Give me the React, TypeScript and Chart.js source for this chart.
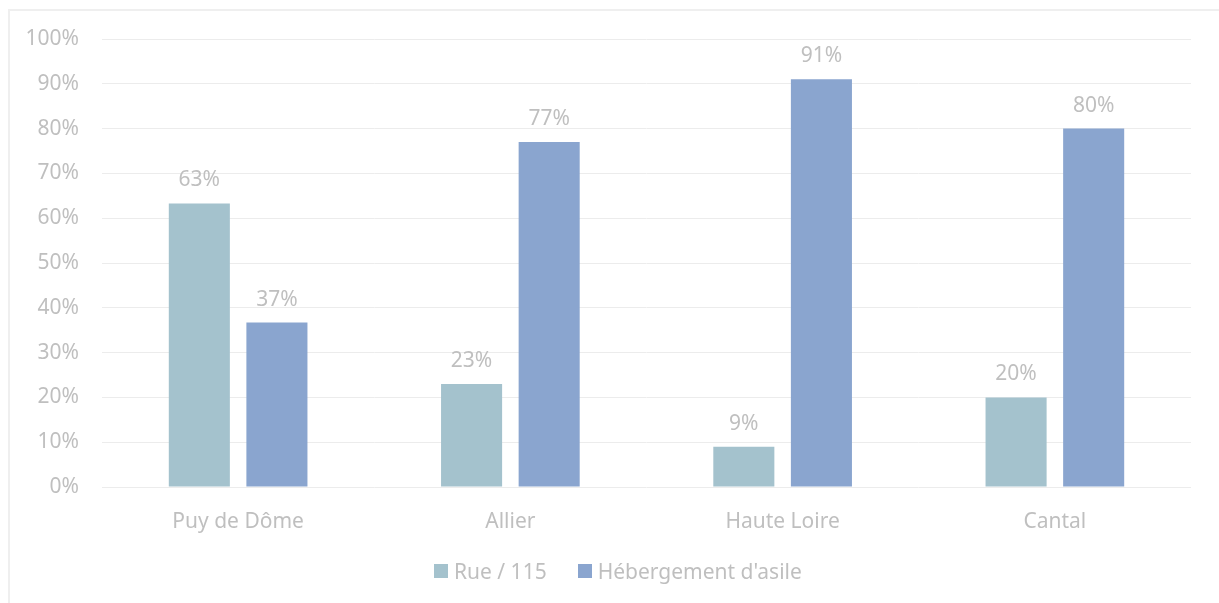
import React, { useEffect, useRef } from "react";
import { Chart, registerables } from "chart.js";

Chart.register(...registerables);

const categories = ["Puy de Dôme", "Allier", "Haute Loire", "Cantal"];
const rueValues = [63.3, 23, 9, 20];
const hebergementValues = [36.7, 77, 91, 80];
const seriesNames = ["Rue / 115", "Hébergement d'asile"];
const seriesColors = ["#a4c2cd", "#8aa5cf"];
const yTicks = [0, 10, 20, 30, 40, 50, 60, 70, 80, 90, 100];

const FONT = "'Noto Sans', 'Open Sans', sans-serif";
const TEXT = "#bfbfbf";
const SIZE = 21;

const barLabels = {
  id: "barLabels",
  afterDatasetsDraw(chart: any) {
    const ctx = chart.ctx;
    ctx.save();
    ctx.font = `${SIZE}px ${FONT}`;
    ctx.fillStyle = TEXT;
    ctx.textAlign = "center";
    ctx.textBaseline = "alphabetic";
    chart.data.datasets.forEach((ds: any, i: number) => {
      const meta = chart.getDatasetMeta(i);
      meta.data.forEach((bar: any, j: number) => {
        const v = ds.data[j];
        ctx.fillText(`${Math.round(v)}%`, bar.x, bar.y - 17);
      });
    });
    ctx.restore();
  },
};

export default function App() {
  const ref = useRef<HTMLCanvasElement | null>(null);
  useEffect(() => {
    if (!ref.current) return;
    const chart = new Chart(ref.current, {
      type: "bar",
      data: {
        labels: categories,
        datasets: [
          {
            label: seriesNames[0],
            data: rueValues,
            backgroundColor: seriesColors[0],
            categoryPercentage: 0.57,
            barPercentage: 0.787,
          },
          {
            label: seriesNames[1],
            data: hebergementValues,
            backgroundColor: seriesColors[1],
            categoryPercentage: 0.57,
            barPercentage: 0.787,
          },
        ],
      },
      options: {
        animation: false,
        responsive: false,
        maintainAspectRatio: false,
        layout: { padding: { left: 0, right: 28, top: 39, bottom: 56 } },
        plugins: {
          legend: { display: false },
          tooltip: { enabled: false },
        },
        scales: {
          x: {
            grid: { display: false },
            border: { display: false },
            ticks: { color: TEXT, font: { family: FONT, size: SIZE }, padding: 14 },
            afterFit: (s: any) => {
              s.height = 60;
            },
          },
          y: {
            min: 0,
            max: 100,
            afterBuildTicks: (s: any) => {
              s.ticks = yTicks.map((v) => ({ value: v }));
            },
            grid: { color: "#ececec", drawTicks: false, lineWidth: 1 },
            border: { display: false },
            ticks: {
              color: TEXT,
              font: { family: FONT, size: SIZE },
              padding: 23,
              callback: (v: any) => `${v}%`,
            },
            afterFit: (s: any) => {
              s.width = 102;
            },
          },
        },
      },
      plugins: [barLabels],
    });
    return () => chart.destroy();
  }, []);
  return (
    <>
      <div
        style={{
          position: "fixed",
          left: 8,
          top: 9,
          width: 1400,
          height: 800,
          border: "2px solid #efefef",
          boxSizing: "border-box",
        }}
      />
      <canvas
        ref={ref}
        width={1219}
        height={603}
        style={{ position: "fixed", left: 0, top: 0, width: 1219, height: 603 }}
      />
      <div
        style={{
          position: "fixed",
          left: 434,
          top: 559,
          height: 24,
          display: "flex",
          alignItems: "center",
          fontFamily: FONT,
          fontSize: SIZE,
          color: TEXT,
          whiteSpace: "nowrap",
        }}
      >
        {seriesNames.map((name, i) => (
          <div
            key={name}
            style={{ display: "flex", alignItems: "center", marginLeft: i === 0 ? 0 : 31 }}
          >
            <span
              style={{
                display: "inline-block",
                width: 14,
                height: 14,
                background: seriesColors[i],
                marginRight: 6,
              }}
            />
            <span style={{ lineHeight: "24px" }}>{name}</span>
          </div>
        ))}
      </div>
    </>
  );
}
